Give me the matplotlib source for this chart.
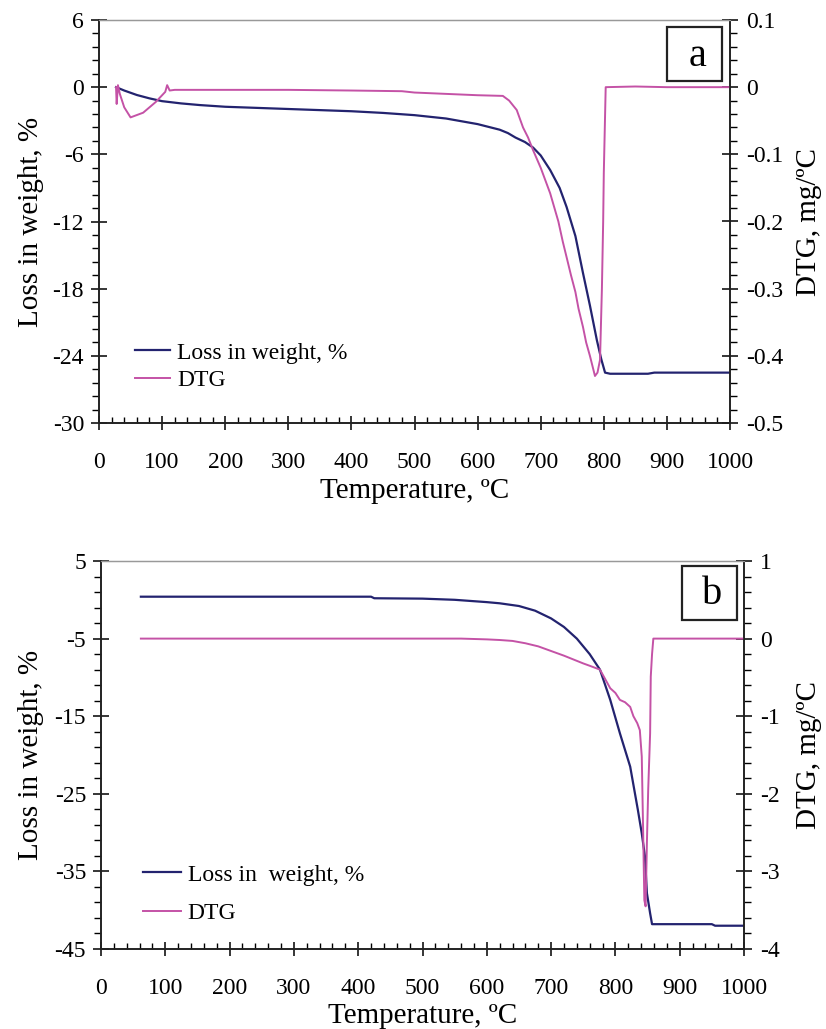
import matplotlib
matplotlib.use('Agg')
import matplotlib.pyplot as plt
from matplotlib.patches import Rectangle
from matplotlib.ticker import MultipleLocator

plt.rcParams['font.family'] = ['Liberation Serif', 'DejaVu Serif']
plt.rcParams['axes.unicode_minus'] = False

# panel a: weight loss (%) and DTG (mg/ºC) vs temperature (ºC)
t_loss_a = [27, 40, 60, 80, 100, 130, 160, 200, 250, 300, 350, 400, 450, 500, 550, 600, 635,
            648, 660, 675, 688, 700, 715, 730, 741, 755, 767, 778, 789, 796, 802, 810, 870,
            880, 1000]
loss_a = [0.0, -0.3, -0.7, -1.0, -1.25, -1.45, -1.6, -1.75, -1.85, -1.95, -2.05, -2.15, -2.3,
          -2.5, -2.8, -3.3, -3.8, -4.1, -4.5, -4.9, -5.4, -6.1, -7.4, -9.0, -10.7, -13.3,
          -16.6, -19.5, -22.6, -24.3, -25.5, -25.6, -25.6, -25.5, -25.5]

t_dtg_a = [27, 28, 30, 33, 40, 50, 70, 90, 105, 108, 112, 120, 200, 300, 400, 480, 500, 600,
           640, 650, 662, 672, 680, 688, 700, 715, 728, 735, 741, 748, 755, 760, 767, 772,
           778, 782, 786, 790, 794, 797, 799, 800, 803, 850, 900, 1000]
dtg_a = [0.0, -0.025, 0.003, -0.01, -0.03, -0.045, -0.038, -0.022, -0.007, 0.003, -0.005,
         -0.004, -0.004, -0.004, -0.005, -0.006, -0.008, -0.012, -0.013, -0.02, -0.034,
         -0.06, -0.075, -0.094, -0.12, -0.158, -0.2, -0.23, -0.253, -0.28, -0.305, -0.33,
         -0.357, -0.38, -0.4, -0.415, -0.43, -0.425, -0.406, -0.3, -0.2, -0.128, 0.0, 0.001,
         0.0, 0.0]

# panel b
t_loss_b = [62, 200, 420, 425, 500, 550, 600, 620, 650, 675, 700, 720, 740, 760, 776, 792,
            807, 823, 835, 841, 846, 849, 854, 857, 900, 950, 955, 1000]
loss_b = [0.4, 0.4, 0.4, 0.2, 0.15, 0.0, -0.3, -0.45, -0.8, -1.4, -2.4, -3.5, -5.0, -7.0,
          -9.0, -12.9, -17.2, -21.5, -27.1, -30.1, -33.1, -37.8, -40.4, -41.8, -41.8, -41.8,
          -42.0, -42.0]

t_dtg_b = [62, 200, 400, 560, 580, 600, 620, 640, 660, 680, 700, 720, 735, 750, 760, 776,
           792, 800, 807, 815, 823, 828, 834, 838, 841, 843, 845, 847, 849, 851, 854, 855,
           857, 859, 1000]
dtg_b = [0, 0, 0, 0, -0.005, -0.01, -0.018, -0.03, -0.06, -0.1, -0.16, -0.22, -0.27, -0.32,
         -0.35, -0.40, -0.64, -0.7, -0.79, -0.82, -0.88, -1.0, -1.09, -1.18, -1.52, -2.42,
         -3.37, -3.45, -2.63, -1.95, -1.22, -0.49, -0.2, 0.0, 0.0]

blue = '#23236f'
pink = '#c452a6'


def style(ax, ax2, ymaj, ymin, y2maj, y2min, yoff=0):
    ax.set_xlim(0, 1000)
    ax.xaxis.set_major_locator(MultipleLocator(100))
    ax.xaxis.set_minor_locator(MultipleLocator(20))
    ax.yaxis.set_major_locator(MultipleLocator(ymaj, offset=yoff))
    ax.yaxis.set_minor_locator(MultipleLocator(ymin, offset=yoff))
    ax2.yaxis.set_major_locator(MultipleLocator(y2maj))
    ax2.yaxis.set_minor_locator(MultipleLocator(y2min))
    ax.tick_params(axis='x', which='major', direction='inout', length=10, width=1.1, labelsize=17, pad=16)
    ax.tick_params(axis='x', which='minor', direction='in', length=4.5, width=1.0)
    ax.tick_params(axis='y', which='major', direction='inout', length=11.5, width=1.1, labelsize=17, pad=5)
    ax.tick_params(axis='y', which='minor', direction='out', length=5, width=1.0)
    ax2.tick_params(axis='y', which='major', direction='inout', length=11.5, width=1.1, labelsize=17, pad=6)
    ax2.tick_params(axis='y', which='minor', direction='out', length=5, width=1.0)
    for a in (ax, ax2):
        for s in ('left', 'right', 'bottom'):
            a.spines[s].set_linewidth(1.2)
            a.spines[s].set_color('#222222')
        a.spines['top'].set_color('#999999')
        a.spines['top'].set_linewidth(0.9)


fig = plt.figure(figsize=(8.26, 10.29), dpi=100)

# ---- a ----
ax = fig.add_axes([99 / 826, 1 - 423 / 1029, 631 / 826, 403 / 1029])
ax2 = ax.twinx()
l1, = ax.plot(t_loss_a, loss_a, color=blue, lw=1.6)
l2, = ax2.plot(t_dtg_a, dtg_a, color=pink, lw=1.4)
ax.set_ylim(-30, 6)
ax2.set_ylim(-0.5, 0.1)
style(ax, ax2, 6, 1.2, 0.1, 0.02)
ax.set_yticks([-30, -24, -18, -12, -6, 0, 6])
ax2.set_yticks([-0.5, -0.4, -0.3, -0.2, -0.1, 0, 0.1])
ax2.set_yticklabels(['-0.5', '-0.4', '-0.3', '-0.2', '-0.1', '0', '0.1'])
ax.set_xlabel('Temperature, ºC', fontsize=21)
ax.set_ylabel('Loss in weight, %', fontsize=21)
ax2.set_ylabel('DTG, mg/ºC', fontsize=21)
ax.xaxis.set_label_coords(0.5, -0.136)
ax.yaxis.set_label_coords(-0.087, 0.5)
ax2.yaxis.set_label_coords(1.105, 0.5)
ax.legend([l1, l2], ['Loss in weight, %', 'DTG'], loc='upper left', bbox_to_anchor=(0.057, 0.201),
          frameon=False, fontsize=17, handlelength=1.5, handletextpad=0.3, labelspacing=0.27,
          borderpad=0, borderaxespad=0)
ax2.add_patch(Rectangle((0.900, 0.849), 0.0872, 0.134, transform=ax2.transAxes,
                        fc='white', ec='#222222', lw=1.6, zorder=5))
ax2.text(0.948, 0.886, 'a', transform=ax2.transAxes, ha='center', va='baseline', fontsize=29, zorder=6)

# ---- b ----
bx = fig.add_axes([101 / 826, 1 - 949 / 1029, 643 / 826, 388 / 1029])
bx2 = bx.twinx()
m1, = bx.plot(t_loss_b, loss_b, color=blue, lw=1.6)
m2, = bx2.plot(t_dtg_b, dtg_b, color=pink, lw=1.4)
bx.set_ylim(-45, 5)
bx2.set_ylim(-4, 1)
style(bx, bx2, 10, 2, 1, 0.2, yoff=5)
bx.set_yticks([-45, -35, -25, -15, -5, 5])
bx.set_xlabel('Temperature, ºC', fontsize=21)
bx.set_ylabel('Loss in weight, %', fontsize=21)
bx2.set_ylabel('DTG, mg/ºC', fontsize=21)
bx.xaxis.set_label_coords(0.5, -0.139)
bx.yaxis.set_label_coords(-0.089, 0.5)
bx2.yaxis.set_label_coords(1.081, 0.5)
bx.legend([m1, m2], ['Loss in  weight, %', 'DTG'], loc='upper left', bbox_to_anchor=(0.065, 0.219),
          frameon=False, fontsize=17, handlelength=1.6, handletextpad=0.3, labelspacing=0.73,
          borderpad=0, borderaxespad=0)
bx2.add_patch(Rectangle((0.9036, 0.848), 0.0855, 0.139, transform=bx2.transAxes,
                        fc='white', ec='#222222', lw=1.6, zorder=5))
bx2.text(0.951, 0.889, 'b', transform=bx2.transAxes, ha='center', va='baseline', fontsize=29, zorder=6)

fig.savefig('out.png', dpi=100)
